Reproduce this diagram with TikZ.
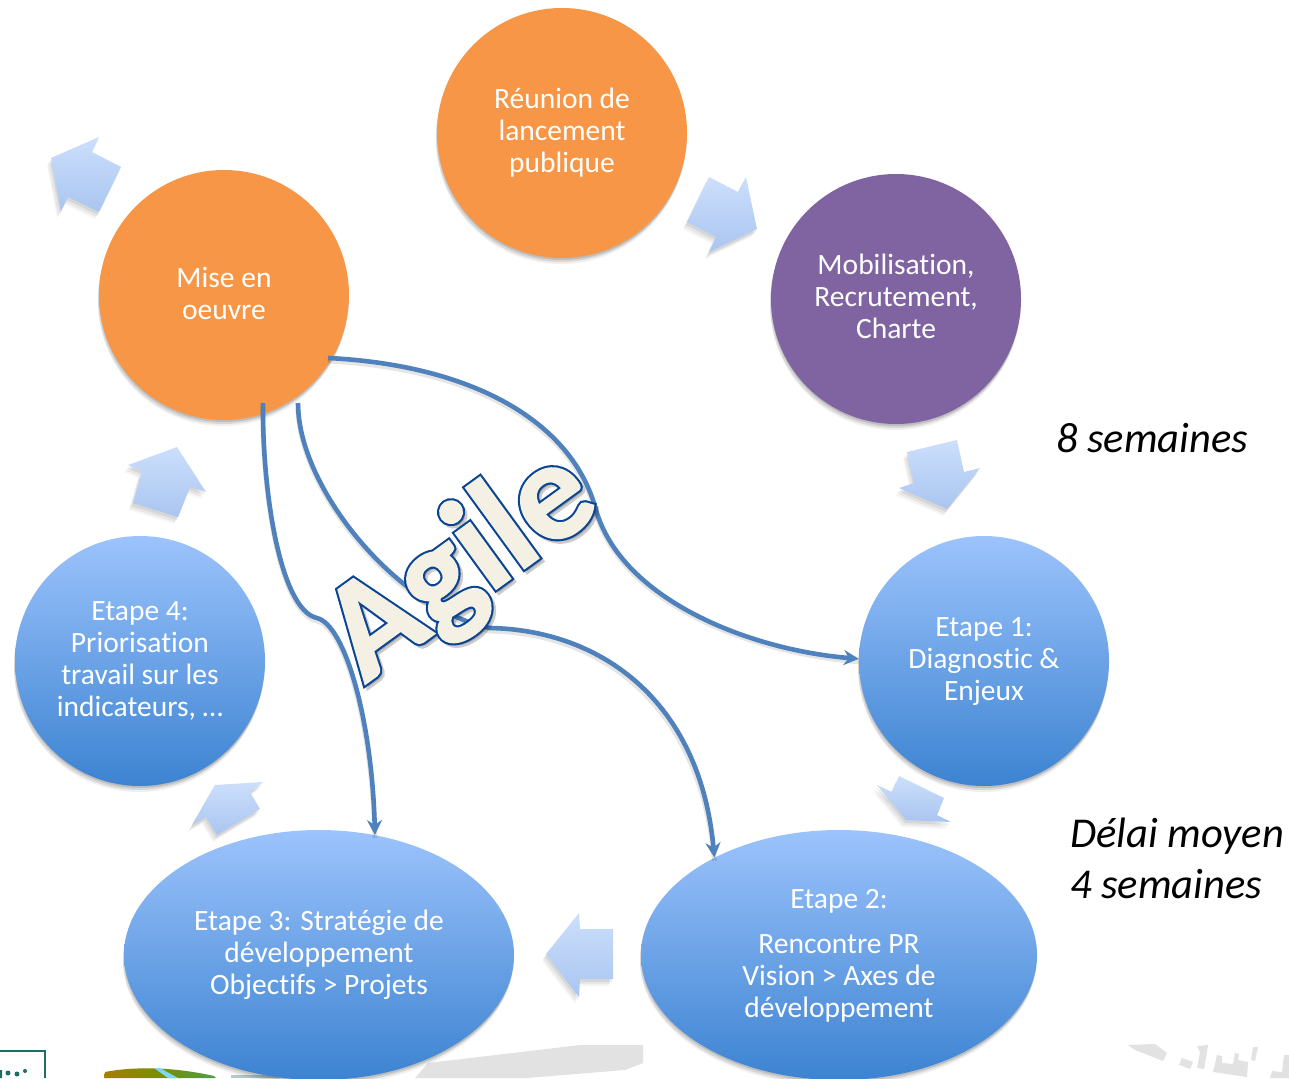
\documentclass[tikz,border=0pt]{standalone}
\usepackage{fontspec}
\setmainfont{Carlito}[Ligatures=NoCommon]
\usetikzlibrary{arrows.meta,shapes.geometric,shadows}
\definecolor{orangeC}{HTML}{F79646}
\definecolor{purpleC}{HTML}{8064A2}
\definecolor{blueTop}{HTML}{9CC3FC}
\definecolor{blueMid}{HTML}{7FB0EF}
\definecolor{blueBot}{HTML}{3C83D1}
\definecolor{arrowTop}{HTML}{CCDFFC}
\definecolor{arrowBot}{HTML}{A9C5F0}
\definecolor{linkC}{HTML}{4F81BD}
\definecolor{agileFill}{HTML}{F4F1E4}
\definecolor{mapGray}{HTML}{E2E2E2}
\definecolor{logoC}{HTML}{1F6B66}
\tikzset{
  softshadow/.style={
    drop shadow={shadow xshift=0pt,shadow yshift=-2pt,opacity=.12,fill=black},
    drop shadow={shadow xshift=-1pt,shadow yshift=-4pt,opacity=.10,fill=black},
    drop shadow={shadow xshift=-1pt,shadow yshift=-6pt,opacity=.06,fill=black}},
  stepnode/.style={align=center,text=white,inner sep=0pt,softshadow,
    font=\fontsize{29.5}{32}\selectfont},
  round/.style={stepnode,circle,minimum size=250pt},
  oval/.style={stepnode,ellipse,minimum width=396pt,minimum height=250pt},
  bluegrad/.style={top color=blueTop,middle color=blueMid,bottom color=blueBot},
  blockarrow/.style={top color=arrowTop,bottom color=arrowBot,
    drop shadow={shadow xshift=-1pt,shadow yshift=-3pt,opacity=.07,fill=black},
    drop shadow={shadow xshift=-3pt,shadow yshift=-5pt,opacity=.06,fill=black},
    drop shadow={shadow xshift=-4pt,shadow yshift=-7pt,opacity=.04,fill=black}},
  link/.style={draw=linkC,line width=4.6pt,-{Stealth[length=15pt,width=15pt]},
    preaction={draw=black,draw opacity=.10,-,line width=5pt,transform canvas={yshift=-3pt}}},
  note/.style={align=left,anchor=west,inner sep=0pt,text=black,
    font=\fontsize{42.5}{51}\selectfont\itshape},
  word/.style={rotate=36,inner sep=0pt,font=\fontsize{142}{142}\selectfont\bfseries},
  map/.style={fill=mapGray}
}
\newcommand{\outlined}[3]{\special{pdf:code 2 Tr #1 w #2 RG}#3\special{pdf:code 0 Tr}}
\begin{document}
\begin{tikzpicture}[x=1pt,y=-1pt]
  \useasboundingbox (0,0) rectangle (1289,1078);
  % bottom strip
  \fill[map] (428,1063) -- (580,1045) -- (643,1045) -- (643,1063) -- (625,1070) -- (527,1078) -- (415,1078) -- cycle;
  \fill[map] (1128,1045) -- (1155,1044) -- (1167,1053) -- (1163,1061) -- (1135,1050) -- cycle;
  \fill[map] (1182,1058) -- (1193,1062) -- (1190,1069) -- (1179,1065) -- cycle;
  \fill[map] (1197,1046) -- (1208,1045) -- (1207,1052) -- (1204,1069) -- (1197,1068) -- (1200,1052) -- cycle;
  \fill[map] (1213,1072) -- (1217,1055) -- (1222,1056) -- (1222,1063) -- (1233,1064) -- (1235,1053) -- (1239,1054) -- (1238,1060) -- (1248,1062) -- (1247,1077) -- (1233,1075) -- cycle;
  \fill[map] (1253,1047) -- (1258,1047) -- (1255,1061) -- (1251,1060) -- cycle;
  \fill[map] (1270,1078) -- (1272,1071) -- (1282,1072) -- (1284,1055) -- (1289,1055) -- (1289,1078) -- cycle;
  \shade[left color=olive!70!orange,right color=green!45!black!70] (104,1078) -- (105,1072) .. controls (130,1067) and (170,1066) .. (214,1076) -- (216,1078) -- cycle;
  \fill[cyan!50] (154,1068) -- (160,1068) -- (178,1078) -- (168,1078) -- cycle;
  \draw[logoC,line width=2.4pt] (0,1051) -- (45,1051) -- (45,1078);
  \fill[logoC] (8,1073) circle (2.5pt) (17,1074) circle (2.5pt) (25,1071) circle (2pt) (0,1070) rectangle (2,1078);
  \fill[logoC!35] (231,1075) rectangle (280,1078);

  \node[round,fill=orangeC] (reunion) at (562,133) {Réunion de\\lancement\\publique};
  \node[round,fill=purpleC] (mobil) at (896,299) {Mobilisation,\\Recrutement,\\Charte\vphantom{p}};
  \node[round,bluegrad] (etape1) at (984,661) {\vphantom{f}Etape 1:\\Diagnostic \&\\Enjeux};
  \node[oval,bluegrad] (etape2) at (839,955) {\vphantom{f}Etape 2:\\[13pt]Rencontre PR\\Vision > Axes de\\développement};
  \node[oval,bluegrad,minimum width=390pt] (etape3) at (319,955) {Etape 3: Stratégie de\\développement\\Objectifs > Projets};
  \node[round,bluegrad] (etape4) at (140,661) {Etape 4:\\Priorisation\\travail sur les\\indicateurs, …};
  \node[round,fill=orangeC] (mise) at (224,295) {Mise en\\oeuvre\vphantom{,}};

  \path[blockarrow] (687,222) -- (709,177) -- (738,192) -- (746,177) -- (757,229) -- (709,252) -- (716,237) -- cycle;
  \path[blockarrow] (907,452) -- (957,440) -- (964,472) -- (980,468) -- (947,509) -- (899,488) -- (914,483) -- cycle;
  \path[blockarrow] (899,776) -- (944,798) -- (937,815) -- (951,822) -- (906,820) -- (877,785) -- (892,792) -- cycle;
  \path[blockarrow] (546,954) -- (579,913) -- (580,929) -- (613,929) -- (613,979) -- (580,979) -- (579,997) -- cycle;
  \path[blockarrow] (215,785) -- (263,782) -- (250,792) -- (260,809) -- (217,835) -- (206,817) -- (192,825) -- cycle;
  \path[blockarrow] (177,447) -- (206,492) -- (190,487) -- (178,517) -- (133,503) -- (142,471) -- (128,465) -- cycle;
  \path[blockarrow] (51,158) -- (99,137) -- (92,152) -- (121,167) -- (99,212) -- (68,197) -- (61,211) -- cycle;

  \coordinate (misea) at (328,358);
  \coordinate (miseb) at (298,403);
  \coordinate (misec) at (263,403);
  \draw[link] (misea) .. controls (470,365) and (572,420) .. (596,510) .. controls (622,600) and (750,650) .. (etape1.179);
  \draw[link] (miseb) .. controls (298,490) and (400,610) .. (490,628) .. controls (600,630) and (700,700) .. (etape2.142);
  \draw[link] (misec) .. controls (262,490) and (280,610) .. (317,618) .. controls (345,625) and (372,720) .. (etape3.65);

  \node[word,text=black,opacity=.2] (agileshadow) at (465,570) {\outlined{5}{0 0 0}{Agile}};
  \node[word,text=agileFill] (agilebase) at (462,567) {\outlined{6}{0.04 0.27 0.58}{Agile}};
  \node[word,text=agileFill] (agile) at (462,567) {\outlined{1.8}{0.957 0.945 0.894}{Agile}};

  \node[note] (huit) at (1056,438) {8 semaines};
  \node[note] (delai) at (1070,858) {Délai moyen\\4 semaines};
\end{tikzpicture}
\end{document}
